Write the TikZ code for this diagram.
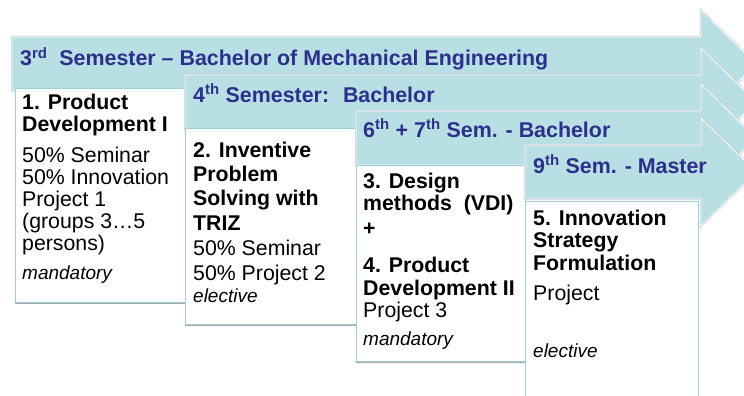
\documentclass[tikz,border=0pt]{standalone}
\usepackage{fontspec}
\setmainfont{Liberation Sans}
\usetikzlibrary{shadows}

\definecolor{arrowfill}{RGB}{184,223,228}
\definecolor{semblue}{RGB}{44,48,140}
\definecolor{boxline}{RGB}{158,208,216}

\begin{document}
\begin{tikzpicture}[
    x=1pt, y=-1pt,
    % Define styles
    semarrow/.style={fill=arrowfill, draw=white, line width=0.8pt, preaction={draw=gray!45, line width=2pt}},
    course/.style={rectangle, draw=boxline, fill=white, line width=1pt, inner sep=0pt, anchor=north west,
        drop shadow={shadow xshift=-1pt, shadow yshift=-1pt, fill=gray!70, opacity=1}},
    semtitle/.style={font=\fontsize{21.4}{22}\selectfont\bfseries, text=semblue, inner sep=0pt, anchor=base west},
    ctitle/.style={font=\fontsize{21.3}{22}\selectfont\bfseries, align=left, inner sep=0pt, anchor=base west},
    ctext/.style={font=\fontsize{21.3}{22}\selectfont, align=left, inner sep=0pt, anchor=base west},
    cnote/.style={font=\fontsize{19}{20}\selectfont\itshape, inner sep=0pt, anchor=base west}
]
\useasboundingbox (0,0) rectangle (744,396);

% 3rd semester (multi-line texts sit on their last line)
\draw[semarrow] (12,37) -- (701,37) -- (701,10) -- (756,64) -- (701,118) -- (701,91) -- (12,91) -- cycle;
\node[semtitle] (sem3) at (20,66) {3\textsuperscript{rd}~ Semester – Bachelor of Mechanical Engineering};
\node[course, minimum width=170, minimum height=214] (box1) at (15,88) {};
\node[ctitle] (c1) at (22,131) {1. Product\\Development I};
\node[ctext] (c1text) at (22,250) {50\% Seminar\\50\% Innovation\\Project 1\\(groups 3…5\\persons)};
\node[cnote] (c1note) at (22,279) {mandatory};

% 4th semester
\draw[semarrow] (185,75) -- (701,75) -- (701,48) -- (756,102) -- (701,156) -- (701,129) -- (185,129) -- cycle;
\node[semtitle] (sem4) at (193,102) {4\textsuperscript{th} Semester:~ Bachelor};
\node[course, minimum width=171, minimum height=196] (box2) at (185,128) {};
\node[ctitle, font=\fontsize{21.3}{24.3}\selectfont\bfseries] (c2) at (193,230) {2. Inventive\\Problem\\Solving with\\TRIZ};
\node[ctext, font=\fontsize{21.3}{25}\selectfont] (c2text) at (193,280) {50\% Seminar\\50\% Project 2};
\node[cnote] (c2note) at (193,302) {elective};

% 6th + 7th semester
\draw[semarrow] (356,111) -- (701,111) -- (701,84) -- (756,138) -- (701,192) -- (701,165) -- (356,165) -- cycle;
\node[semtitle] (sem67) at (363,137) {6\textsuperscript{th} + 7\textsuperscript{th} Sem. - Bachelor};
\node[course, minimum width=169, minimum height=196] (box3) at (356,165) {};
\node[ctitle] (c3) at (363,210) {3. Design\\methods~ (VDI)};
\node[ctitle] (plus) at (363,235) {+};
\node[ctitle, font=\fontsize{21.3}{23}\selectfont\bfseries] (c4) at (363,295) {4. Product\\Development II};
\node[ctext] (c4text) at (363,317) {Project 3};
\node[cnote] (c4note) at (363,345) {mandatory};

% 9th semester
\draw[semarrow] (525,145) -- (701,145) -- (701,118) -- (756,172) -- (701,226) -- (701,199) -- (525,199) -- cycle;
\node[semtitle] (sem9) at (533,173) {9\textsuperscript{th} Sem. - Master};
\node[course, minimum width=173, minimum height=200] (box5) at (525,201) {};
\node[ctitle, font=\fontsize{21.3}{22.5}\selectfont\bfseries] (c5) at (533,270) {5. Innovation\\Strategy\\Formulation};
\node[ctext] (c5text) at (533,300) {Project};
\node[cnote] (c5note) at (533,357) {elective};

\end{tikzpicture}
\end{document}
